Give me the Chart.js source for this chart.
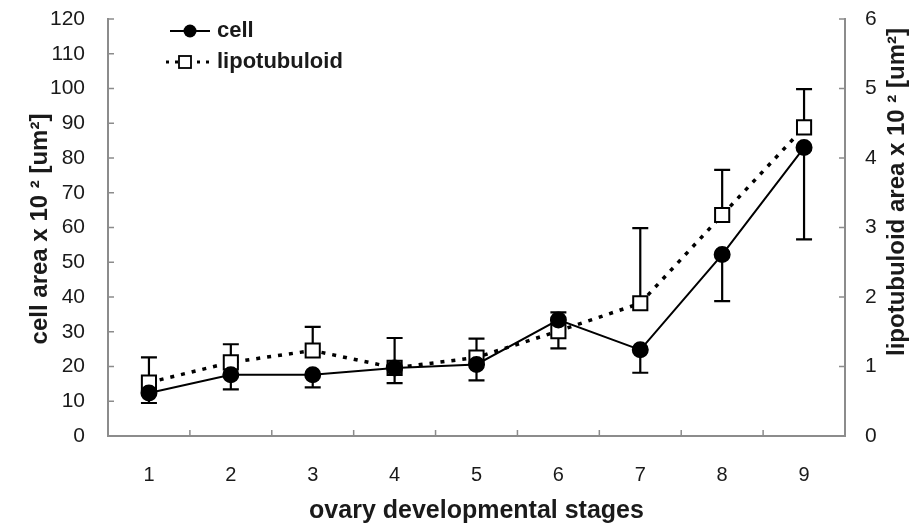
<!DOCTYPE html>
<html>
<head>
<meta charset="utf-8">
<script src="https://cdn.jsdelivr.net/npm/chart.js@4"></script>
<style>
  html, body { margin: 0; padding: 0; background: #fff; }
  #wrap { width: 913px; height: 527px; }
</style>
</head>
<body>
<div id="wrap"><canvas id="myChart" width="913" height="527"></canvas></div>
<script>
// stades et valeurs
var stages = ['1', '2', '3', '4', '5', '6', '7', '8', '9'];
var cellArea = [12.4, 17.6, 17.6, 19.6, 20.6, 33.4, 24.8, 52.2, 83.0];
var cellErrLow = [9.5, 13.4, 14.0, 15.2, 16.0, null, 18.2, 38.8, 56.6];
var cellErrHigh = [null, null, null, null, null, 35.6, null, null, null];
var lipoArea = [0.77, 1.06, 1.23, 0.98, 1.13, 1.51, 1.91, 3.18, 4.44];
var lipoErrLow = [null, null, null, null, null, 1.26, null, null, null];
var lipoErrHigh = [1.13, 1.32, 1.57, 1.41, 1.40, null, 2.99, 3.83, 4.99];
var leftTicks = { min: 0, max: 120, step: 10 };
var rightTicks = { min: 0, max: 6, step: 1 };

var axisColor = '#8c8c8c';
var textColor = '#1a1a1a';
var fontName = '"Liberation Sans", Arial, sans-serif';

// barres d'erreur, marques internes, titres et légende
var dessinPlugin = {
  id: 'dessin',
  beforeDatasetsDraw: function (chart) {
    var c = chart.ctx;
    var x = chart.scales.x;
    var series = [
      { scale: chart.scales.y, mean: cellArea, low: cellErrLow, high: cellErrHigh },
      { scale: chart.scales.y1, mean: lipoArea, low: lipoErrLow, high: lipoErrHigh }
    ];
    c.save();
    c.strokeStyle = '#000';
    c.lineWidth = 2.2;
    series.forEach(function (s) {
      for (var i = 0; i < s.mean.length; i++) {
        var px = x.getPixelForValue(i);
        var py = s.scale.getPixelForValue(s.mean[i]);
        [s.low[i], s.high[i]].forEach(function (v) {
          if (v === null) return;
          var ey = s.scale.getPixelForValue(v);
          c.beginPath();
          c.moveTo(px, py);
          c.lineTo(px, ey);
          c.moveTo(px - 8, ey);
          c.lineTo(px + 8, ey);
          c.stroke();
        });
      }
    });
    c.restore();
  },
  afterDraw: function (chart) {
    var c = chart.ctx;
    var a = chart.chartArea;
    var x = chart.scales.x;
    c.save();
    // petites marques vers l'intérieur
    c.strokeStyle = axisColor;
    c.lineWidth = 1.5;
    c.beginPath();
    chart.scales.y.ticks.forEach(function (t) {
      var py = chart.scales.y.getPixelForValue(t.value);
      c.moveTo(a.left, py); c.lineTo(a.left + 6, py);
    });
    chart.scales.y1.ticks.forEach(function (t) {
      var py = chart.scales.y1.getPixelForValue(t.value);
      c.moveTo(a.right, py); c.lineTo(a.right - 6, py);
    });
    for (var i = 0; i < stages.length - 1; i++) {
      var bx = (x.getPixelForValue(i) + x.getPixelForValue(i + 1)) / 2;
      c.moveTo(bx, a.bottom); c.lineTo(bx, a.bottom - 6);
    }
    c.stroke();

    // titres des axes
    c.fillStyle = textColor;
    c.textAlign = 'center';
    c.textBaseline = 'middle';
    c.font = 'bold 25px ' + fontName;
    c.fillText('ovary developmental stages', (a.left + a.right) / 2, 511);
    c.font = 'bold 24px ' + fontName;
    c.save();
    c.translate(40, 229);
    c.rotate(-Math.PI / 2);
    c.fillText('cell area x 10 \u00B2 [um\u00B2]', 0, 0);
    c.restore();
    c.save();
    c.translate(897, 192);
    c.rotate(-Math.PI / 2);
    c.fillText('lipotubuloid area x 10 \u00B2 [um\u00B2]', 0, 0);
    c.restore();

    // légende
    var ds = chart.data.datasets;
    c.strokeStyle = '#000';
    c.lineWidth = 2;
    c.beginPath(); c.moveTo(170, 31); c.lineTo(210, 31); c.stroke();
    c.fillStyle = '#000';
    c.beginPath(); c.arc(190, 31, 6.5, 0, Math.PI * 2); c.fill();
    c.lineWidth = 3;
    c.setLineDash([3, 6]);
    c.beginPath(); c.moveTo(166, 62); c.lineTo(178, 62); c.moveTo(197, 62); c.lineTo(214, 62); c.stroke();
    c.setLineDash([]);
    c.lineWidth = 1.8;
    c.fillStyle = '#fff';
    c.fillRect(179, 56, 12, 12);
    c.strokeRect(179, 56, 12, 12);
    c.fillStyle = textColor;
    c.textAlign = 'left';
    c.font = 'bold 22px ' + fontName;
    c.fillText(ds[0].label, 217, 31);
    c.fillText(ds[1].label, 217, 62);
    c.restore();
  }
};

new Chart(document.getElementById('myChart'), {
  type: 'line',
  data: {
    labels: stages,
    datasets: [{
      label: 'cell',
      data: cellArea,
      yAxisID: 'y',
      borderColor: '#000',
      borderWidth: 2,
      pointStyle: 'circle',
      pointRadius: 7.5,
      pointBackgroundColor: '#000',
      pointBorderColor: '#000',
      tension: 0
    }, {
      label: 'lipotubuloid',
      data: lipoArea,
      yAxisID: 'y1',
      borderColor: '#000',
      borderWidth: 3.5,
      borderDash: [4, 7],
      pointStyle: 'rect',
      pointRadius: 10,
      pointBorderWidth: 2,
      pointBackgroundColor: '#fff',
      pointBorderColor: '#000',
      tension: 0
    }]
  },
  options: {
    responsive: false,
    animation: false,
    layout: { padding: { top: 19, left: 0, right: 0, bottom: 0 } },
    plugins: { legend: { display: false }, tooltip: { enabled: false } },
    scales: {
      x: {
        type: 'category',
        offset: true,
        grid: { display: false },
        border: { color: axisColor, width: 2 },
        ticks: { color: textColor, font: { family: fontName, size: 20 }, padding: 19 },
        afterFit: function (s) { s.height = 91; }
      },
      y: {
        position: 'left',
        min: leftTicks.min,
        max: leftTicks.max,
        grid: { display: false },
        border: { color: axisColor, width: 2 },
        ticks: { stepSize: leftTicks.step, color: textColor, font: { family: fontName, size: 21 }, padding: 15 },
        afterFit: function (s) { s.width = 108; s.paddingTop = 0; s.paddingBottom = 0; }
      },
      y1: {
        position: 'right',
        min: rightTicks.min,
        max: rightTicks.max,
        grid: { display: false },
        border: { color: axisColor, width: 2 },
        ticks: { stepSize: rightTicks.step, color: textColor, font: { family: fontName, size: 21 }, padding: 12 },
        afterFit: function (s) { s.width = 68; s.paddingTop = 0; s.paddingBottom = 0; }
      }
    }
  },
  plugins: [dessinPlugin]
});
</script>
</body>
</html>
